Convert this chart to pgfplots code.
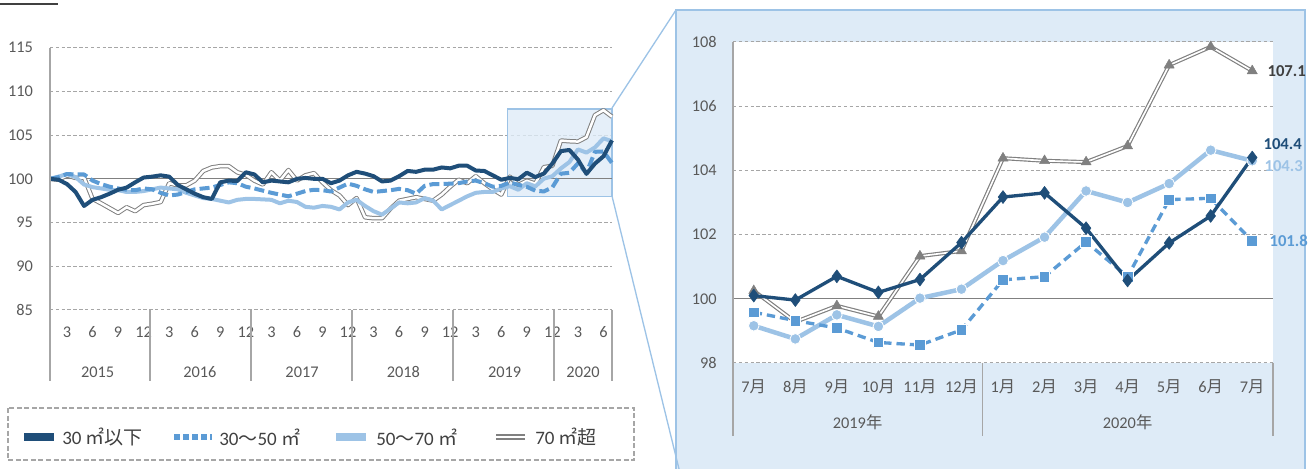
\documentclass[border=0pt]{standalone}
\usepackage{fontspec}
\setmainfont{Carlito}
\newfontfamily\cjk{Noto Sans CJK JP}
\usepackage{pgfplots}
\pgfplotsset{compat=1.18}
\usepackage{pgfplotstable}

\definecolor{cDark}{HTML}{1F4E79}
\definecolor{cMid}{HTML}{5B9BD5}
\definecolor{cLight}{HTML}{9DC3E6}
\definecolor{cGray}{HTML}{808080}
\definecolor{cPanel}{HTML}{DEEBF7}
\definecolor{cText}{HTML}{595959}
\definecolor{cTextD}{HTML}{404040}
\definecolor{cGrid}{HTML}{A6A6A6}

% ---- left chart: Jan 2015 (0) ... Jul 2020 (66)
\pgfplotstableread{
x y
0 100
1 99.9
2 99.4
3 98.5
4 96.9
5 97.6
6 97.9
7 98.3
8 98.75
9 99.0
10 99.6
11 100.15
12 100.25
13 100.4
14 100.25
15 99.3
16 98.8
17 98.3
18 97.9
19 97.7
20 99.6
21 99.8
22 99.75
23 100.75
24 100.5
25 99.6
26 99.8
27 99.7
28 99.6
29 100.0
30 100.1
31 100.0
32 100.0
33 99.5
34 99.8
35 100.4
36 100.8
37 100.6
38 100.3
39 99.7
40 99.8
41 100.3
42 100.9
43 100.8
44 101.05
45 101.05
46 101.3
47 101.2
48 101.5
49 101.5
50 100.95
51 100.9
52 100.4
53 99.9
54 100.1
55 99.96
56 100.7
57 100.2
58 100.6
59 101.75
60 103.17
61 103.3
62 102.2
63 100.57
64 101.74
65 102.58
66 104.4
}\tDark

\pgfplotstableread{
x y
0 100
1 100.2
2 100.55
3 100.5
4 100.5
5 99.8
6 99.4
7 99.1
8 98.9
9 98.75
10 98.7
11 98.9
12 98.8
13 98.4
14 98.1
15 98.2
16 98.5
17 98.8
18 98.9
19 99.0
20 99.3
21 99.6
22 99.5
23 99.1
24 98.9
25 98.65
26 98.4
27 98.2
28 98.0
29 98.3
30 98.6
31 98.75
32 98.7
33 98.55
34 99.0
35 99.45
36 99.2
37 98.8
38 98.5
39 98.6
40 98.7
41 98.85
42 98.7
43 98.3
44 99.2
45 99.4
46 99.4
47 99.45
48 99.5
49 99.7
50 99.8
51 99.5
52 99.1
53 99.2
54 99.58
55 99.32
56 99.09
57 98.64
58 98.56
59 99.03
60 100.59
61 100.69
62 101.77
63 100.69
64 103.09
65 103.13
66 101.8
}\tMid

\pgfplotstableread{
x y
0 100
1 100.25
2 100.55
3 100.2
4 99.35
5 99.05
6 98.9
7 98.75
8 98.7
9 98.5
10 98.5
11 98.6
12 98.8
13 99.0
14 98.9
15 98.8
16 98.4
17 98.1
18 97.8
19 97.7
20 97.5
21 97.3
22 97.6
23 97.7
24 97.7
25 97.65
26 97.6
27 97.2
28 97.5
29 97.35
30 96.8
31 96.7
32 96.9
33 96.8
34 96.5
35 97.3
36 97.6
37 96.9
38 96.3
39 95.9
40 96.6
41 97.3
42 97.2
43 97.3
44 97.8
45 97.5
46 96.5
47 97.0
48 97.5
49 98.0
50 98.4
51 98.5
52 98.5
53 98.9
54 99.16
55 98.75
56 99.5
57 99.14
58 100.02
59 100.3
60 101.19
61 101.92
62 103.36
63 103.0
64 103.59
65 104.63
66 104.3
}\tLight

\pgfplotstableread{
x y
0 100
1 99.9
2 100.4
3 100.1
4 100.15
5 97.7
6 97.2
7 96.65
8 96.1
9 96.75
10 96.3
11 97.0
12 97.15
13 97.35
14 99.5
15 99.25
16 99.25
17 99.8
18 100.9
19 101.3
20 101.45
21 101.45
22 100.75
23 100.45
24 99.8
25 99.35
26 100.75
27 99.8
28 101.0
29 99.8
30 100.4
31 100.65
32 99.6
33 98.7
34 98.1
35 97.0
36 97.8
37 95.6
38 95.5
39 95.5
40 96.6
41 97.5
42 97.7
43 97.9
44 97.7
45 97.5
46 98.2
47 99.1
48 99.9
49 99.5
50 100.3
51 99.5
52 98.8
53 98.2
54 100.25
55 99.28
56 99.78
57 99.45
58 101.33
59 101.49
60 104.38
61 104.3
62 104.26
63 104.76
64 107.28
65 107.85
66 107.1
}\tGray

% ---- right chart: Jul 2019 (0) ... Jul 2020 (12)
\pgfplotstableread{
x y
0 100.1
1 99.96
2 100.7
3 100.2
4 100.6
5 101.75
6 103.17
7 103.3
8 102.2
9 100.57
10 101.74
11 102.58
12 104.4
}\rDark
\pgfplotstableread{
x y
0 99.58
1 99.32
2 99.09
3 98.64
4 98.56
5 99.03
6 100.59
7 100.69
8 101.77
9 100.69
10 103.09
11 103.13
12 101.8
}\rMid
\pgfplotstableread{
x y
0 99.16
1 98.75
2 99.5
3 99.14
4 100.02
5 100.3
6 101.19
7 101.92
8 103.36
9 103.0
10 103.59
11 104.63
12 104.3
}\rLight
\pgfplotstableread{
x y
0 100.25
1 99.28
2 99.78
3 99.45
4 101.33
5 101.49
6 104.38
7 104.3
8 104.26
9 104.76
10 107.28
11 107.85
12 107.1
}\rGray

\begin{document}
\begin{tikzpicture}
\useasboundingbox (0,0) rectangle (785.4pt,281.4pt);

% right panel background
\begin{scope}[x=0.6pt, y=-0.6pt, yshift=281.4pt]
\fill[cPanel] (676,10) rectangle (1305,480);
\draw[cLight, line width=1pt] (1305,480) -- (1305,10) -- (676,10) -- (676,480);
\end{scope}

% ---------------- left chart ----------------
\begin{axis}[
  at={(30pt,95.4pt)}, anchor=south west,
  scale only axis, width=337.2pt, height=157.4pt,
  xmin=0, xmax=66, ymin=85, ymax=115,
  ytick={85,90,...,115},
  xtick={2,5,...,65},
  xticklabels={3,6,9,12,3,6,9,12,3,6,9,12,3,6,9,12,3,6,9,12,3,6},
  major tick length=0pt,
  axis line style={draw=none},
  ymajorgrids, major grid style={cGrid, dash pattern=on 2pt off 1.5pt, line width=0.6pt},
  tick label style={font=\fontsize{9.8}{11}\selectfont, text=cText},
  /pgf/number format/assume math mode=true,
  yticklabel style={anchor=east, inner sep=0pt, xshift=-10pt},
  xticklabel style={anchor=center, inner sep=0pt, yshift=-13.2pt},
  clip=false, no markers,
  every axis plot/.append style={line join=round},
]
\fill[cPanel, fill opacity=0.8] (axis cs:53.75,98) rectangle (axis cs:66,108);
\draw[cLight, line width=0.8pt] (axis cs:53.75,98) rectangle (axis cs:66,108);
\draw[cGray, line width=0.8pt] (axis cs:0,100) -- (axis cs:66,100);

\addplot[cGray, line width=0.6pt, double=white, double distance=1.5pt] table {\tGray};
\addplot[cLight, line width=2.4pt] table {\tLight};
\addplot[cMid, line width=2.4pt, dash pattern=on 6pt off 2.5pt] table {\tMid};
\addplot[cDark, line width=2.4pt] table {\tDark};

\draw[cGrid, line width=0.8pt] (axis cs:0,115) -- ([yshift=-42.6pt]axis cs:0,85);
\draw[cGrid, line width=0.8pt] (axis cs:66,85) -- ([yshift=-42.6pt]axis cs:66,85);
\draw[cGrid, line width=0.8pt] (axis cs:11.74,85) -- ([yshift=-42.6pt]axis cs:11.74,85);
\draw[cGrid, line width=0.8pt] (axis cs:23.6,85) -- ([yshift=-42.6pt]axis cs:23.6,85);
\draw[cGrid, line width=0.8pt] (axis cs:35.47,85) -- ([yshift=-42.6pt]axis cs:35.47,85);
\draw[cGrid, line width=0.8pt] (axis cs:47.33,85) -- ([yshift=-42.6pt]axis cs:47.33,85);
\draw[cGrid, line width=0.8pt] (axis cs:59.19,85) -- ([yshift=-42.6pt]axis cs:59.19,85);
\begin{scope}[every node/.style={font=\fontsize{9.8}{11}\selectfont, text=cText, inner sep=0pt}]
\node at ([yshift=-37.2pt]axis cs:5.6,85) {2015};
\node at ([yshift=-37.2pt]axis cs:17.6,85) {2016};
\node at ([yshift=-37.2pt]axis cs:29.6,85) {2017};
\node at ([yshift=-37.2pt]axis cs:41.5,85) {2018};
\node at ([yshift=-37.2pt]axis cs:53.4,85) {2019};
\node at ([yshift=-37.2pt]axis cs:62.6,85) {2020};
\end{scope}
\end{axis}

% ---------------- right chart ----------------
\begin{axis}[
  at={(439.8pt,63.6pt)}, anchor=south west,
  scale only axis, width=324pt, height=192.6pt,
  xmin=-0.5, xmax=12.5, ymin=98, ymax=108,
  ytick={98,100,...,108},
  xtick={0,...,12},
  xticklabels={7{\cjk 月},8{\cjk 月},9{\cjk 月},10{\cjk 月},11{\cjk 月},12{\cjk 月},1{\cjk 月},2{\cjk 月},3{\cjk 月},4{\cjk 月},5{\cjk 月},6{\cjk 月},7{\cjk 月}},
  major tick length=0pt,
  axis line style={draw=none},
  axis background/.style={fill=white},
  ymajorgrids, major grid style={cGrid, dash pattern=on 2pt off 1.5pt, line width=0.6pt},
  tick label style={font=\fontsize{9.8}{11}\selectfont, text=cText},
  /pgf/number format/assume math mode=true,
  yticklabel style={anchor=east, inner sep=0pt, xshift=-9.6pt},
  xticklabel style={anchor=center, inner sep=0pt, yshift=-14.2pt},
  clip=false,
  every axis plot/.append style={line join=round},
]
\draw[cGray, line width=0.8pt] (axis cs:-0.5,100) -- (axis cs:12.5,100);

\addplot[cGray, line width=2.4pt, no markers, forget plot] table {\rGray};
\addplot[white, line width=1.0pt, no markers, forget plot] table {\rGray};
\addplot[only marks, mark=triangle*, mark size=3.5pt, mark options={fill=cGray, draw=cGray, line width=0.3pt}] table {\rGray};
\addplot[cLight, line width=2.7pt, mark=*, mark size=3.2pt, mark options={fill=cLight, draw=white, line width=0.5pt}] table {\rLight};
\addplot[cMid, line width=2pt, dash pattern=on 5pt off 3pt, mark=square*, mark size=3.2pt, mark options={solid, fill=cMid, draw=white, line width=0.5pt}] table {\rMid};
\addplot[cDark, line width=2pt, mark=diamond*, mark size=3.9pt, mark options={fill=cDark, draw=cDark, line width=0.3pt}] table {\rDark};

\begin{scope}[every node/.style={font=\fontsize{10}{11}\selectfont\bfseries, inner sep=0pt, anchor=west}]
\node[text=cTextD] at ([xshift=9pt]axis cs:12,107.1) {107.1};
\node[text=cDark] at ([xshift=6.6pt, yshift=8.2pt]axis cs:12,104.4) {104.4};
\node[text=cLight] at ([xshift=7.2pt, yshift=-3pt]axis cs:12,104.3) {104.3};
\node[text=cMid] at ([xshift=10.2pt]axis cs:12,101.8) {101.8};
\end{scope}

\draw[cGrid, line width=0.8pt] (axis cs:-0.5,108) -- ([yshift=-43.8pt]axis cs:-0.5,98);
\draw[cGrid, line width=0.8pt] (axis cs:5.5,98) -- ([yshift=-43.8pt]axis cs:5.5,98);
\draw[cGrid, line width=0.8pt] (axis cs:12.5,98) -- ([yshift=-43.8pt]axis cs:12.5,98);
\node[font=\fontsize{9.8}{11}\selectfont, text=cText, inner sep=0pt] at ([yshift=-35.8pt]axis cs:2.5,98) {2019{\cjk 年}};
\node[font=\fontsize{9.8}{11}\selectfont, text=cText, inner sep=0pt] at ([yshift=-35.8pt]axis cs:9,98) {2020{\cjk 年}};
\end{axis}

% ---------------- legend, connectors, decoration ----------------
\begin{scope}[x=0.6pt, y=-0.6pt, yshift=281.4pt]
\draw[cLight, line width=0.8pt] (612,108) -- (676,10);
\draw[cLight, line width=0.8pt] (612,196) -- (679,469);
\draw[cTextD, line width=1pt] (0,4) -- (58,4);

\draw[cGrid, line width=0.9pt, dash pattern=on 3pt off 1.5pt] (8,408) rectangle (634,460);
\draw[cDark, line width=4.8pt] (24,437) -- (54,437);
\draw[cMid, line width=3.6pt, dash pattern=on 3.6pt off 1.8pt] (174,437) -- (212,437);
\draw[cLight, line width=4.8pt] (336,437) -- (366,437);
\draw[cGray, line width=3.8pt] (496,437) -- (525,437);
\draw[white, line width=1.2pt] (496,437) -- (525,437);
\begin{scope}[every node/.style={font=\fontsize{11.4}{13}\selectfont, text=cTextD, inner sep=0pt, anchor=west}]
\node at (62,437) {30 {\cjk ㎡以下}};
\node at (219,437) {30{\cjk ～}50 {\cjk ㎡}};
\node at (376,437) {50{\cjk ～}70 {\cjk ㎡}};
\node at (535,437) {70 {\cjk ㎡超}};
\end{scope}
\end{scope}
\end{tikzpicture}
\end{document}
